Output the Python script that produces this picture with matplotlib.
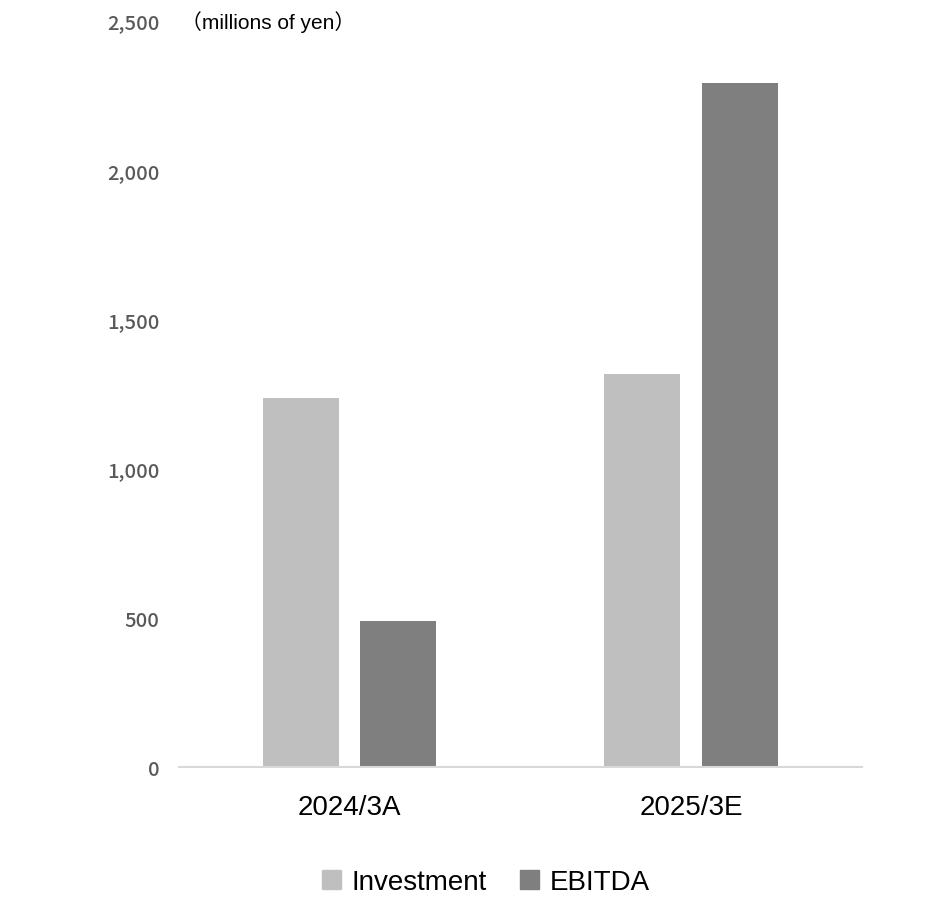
import matplotlib.pyplot as plt
import numpy as np
from matplotlib.patches import Patch

categories = ['2024/3A', '2025/3E']
investment = [1237, 1317]
ebitda = [489, 2292]
yticks = [0, 500, 1000, 1500, 2000, 2500]
ytick_labels = ['0', '500', '1,000', '1,500', '2,000', '2,500']

inv_color = '#bfbfbf'
ebitda_color = '#7f7f7f'

fig = plt.figure(figsize=(9.4, 9.04), dpi=100)
ax = fig.add_axes([0.190, 0.150, 0.727, 0.8257])

x = np.arange(len(categories))
w = 0.222
ax.bar(x - 0.143, investment, width=w, color=inv_color)
ax.bar(x + 0.143, ebitda, width=w, color=ebitda_color)

ax.set_xlim(-0.5, 1.5)
ax.set_ylim(0, 2500)
ax.set_yticks(yticks)
ax.set_yticklabels(ytick_labels, family='Noto Sans CJK JP', fontsize=14.5,
                   color='#595959', fontweight='medium')
ax.tick_params(axis='y', length=0, pad=14)
ax.set_xticks(x)
ax.set_xticklabels(categories, family='Liberation Sans', fontsize=20, color='black')
ax.tick_params(axis='x', length=0, pad=19)

for s in ['top', 'right', 'left']:
    ax.spines[s].set_visible(False)
ax.spines['bottom'].set_color('#d9d9d9')
ax.spines['bottom'].set_linewidth(1.5)

fig.text(181 / 940, 1 - 22 / 904, '（millions of yen）', family=['Liberation Sans', 'Noto Sans CJK JP'],
         fontsize=15, va='center', ha='left', color='black')

handles = [Patch(color=inv_color, label='Investment'), Patch(color=ebitda_color, label='EBITDA')]
fig.legend(handles=handles, loc='center', bbox_to_anchor=(486 / 940, 1 - 883 / 904), ncol=2,
           frameon=False, prop={'family': 'Liberation Sans', 'size': 20},
           handlelength=0.68, handleheight=0.68, handletextpad=0.4, columnspacing=1.2)

fig.savefig('out.png', dpi=100)
